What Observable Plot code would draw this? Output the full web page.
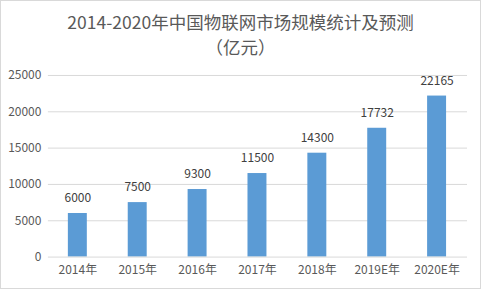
<!DOCTYPE html>
<html><head><meta charset="utf-8">
<script src="https://cdn.jsdelivr.net/npm/d3@7"></script>
<script src="https://cdn.jsdelivr.net/npm/@observablehq/plot@0.6"></script>
<style>
html,body{margin:0;padding:0;background:#fff;}
#wrap{position:relative;width:481px;height:289px;box-sizing:border-box;border:1px solid #d9d9d9;overflow:hidden;font-family:"Noto Sans CJK SC","Noto Sans",sans-serif;}
.t{position:absolute;left:0;width:479px;text-align:center;color:#595959;font-size:17.5px;line-height:18px;white-space:nowrap;}
#t1{top:12px;}
#t2{top:37px;}
#chart{position:absolute;left:-1px;top:57px;}
</style></head>
<body><div id="wrap"><div class="t" id="t1">2014-2020年中国物联网市场规模统计及预测</div><div class="t" id="t2">（亿元）</div><div id="chart"></div></div>
<script>
const years = ["2014年","2015年","2016年","2017年","2018年","2019E年","2020E年"];
const values = [6000,7500,9300,11500,14300,17732,22165];
const yTicks = [0,5000,10000,15000,20000,25000];
const data = years.map((y,i)=>({year:y,value:values[i]}));
const chart = Plot.plot({
  width:481, height:232,
  marginLeft:48, marginRight:13, marginTop:17, marginBottom:33,
  style:{fontFamily:"'Noto Sans CJK SC','Noto Sans',sans-serif",fontSize:"12px",color:"#595959",background:"transparent"},
  x:{domain:years, paddingInner:0.68, paddingOuter:0.34, label:null, tickSize:0, tickPadding:8},
  y:{domain:[0,25000], ticks:yTicks, tickFormat:d=>String(d), label:null, tickSize:0, tickPadding:7},
  marks:[
    Plot.gridY(yTicks.slice(1),{stroke:"#d9d9d9",strokeOpacity:1}),
    Plot.barY(data,{x:"year",y:"value",fill:"#5b9bd5"}),
    Plot.ruleY([0],{stroke:"#d9d9d9"}),
    Plot.text(data,{x:"year",y:"value",text:d=>String(d.value),dy:-15,fill:"#404040",fontSize:12})
  ]
});
document.getElementById("chart").appendChild(chart);
</script></body></html>
